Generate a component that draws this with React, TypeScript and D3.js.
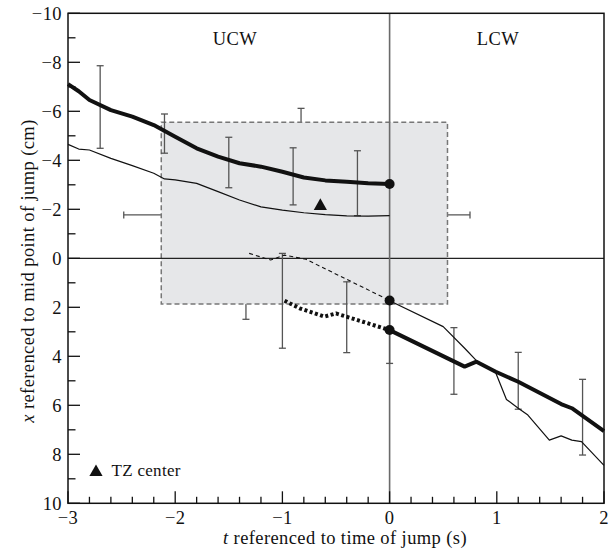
import React from "react";
import * as d3 from "d3";

const ucwThickT = [-3, -2.9, -2.8, -2.6, -2.4, -2.2, -2.0, -1.8, -1.6, -1.4, -1.2, -1.0, -0.8, -0.6, -0.4, -0.2, 0];
const ucwThickX = [-7.11, -6.82, -6.46, -6.05, -5.78, -5.44, -4.96, -4.49, -4.15, -3.88, -3.74, -3.53, -3.3, -3.18, -3.12, -3.06, -3.03];

const ucwThinT = [-3, -2.9, -2.8, -2.6, -2.4, -2.2, -2.1, -2.0, -1.8, -1.6, -1.4, -1.2, -1.0, -0.8, -0.6, -0.4, -0.2, 0];
const ucwThinX = [-4.65, -4.46, -4.42, -4.08, -3.78, -3.47, -3.24, -3.2, -3.06, -2.72, -2.38, -2.1, -1.97, -1.86, -1.78, -1.73, -1.72, -1.74];

const dashT = [-1.31, -1.11, -0.98, -0.78, -0.4, 0];
const dashX = [-0.2, 0.07, -0.13, 0.04, 0.86, 1.72];

const dotT = [-0.98, -0.84, -0.61, -0.5, -0.25, 0];
const dotX = [1.73, 2.04, 2.38, 2.25, 2.59, 2.93];

const lcwThickT = [0, 0.7, 0.81, 0.99, 1.2, 1.6, 1.7, 2.0];
const lcwThickX = [2.93, 4.42, 4.22, 4.63, 5.04, 5.95, 6.12, 7.05];

const lcwThinT = [0, 0.5, 0.7, 0.81, 0.99, 1.09, 1.2, 1.29, 1.49, 1.6, 1.7, 1.79, 2.0];
const lcwThinX = [1.73, 2.79, 3.67, 4.18, 4.67, 5.76, 6.12, 6.4, 7.42, 7.25, 7.42, 7.48, 8.45];

const errT = [-2.7, -2.1, -1.5, -0.9, -0.3, -1.0, -0.4, 0, 0.6, 1.2, 1.8];
const errLo = [-7.86, -5.89, -4.94, -4.51, -4.39, -0.2, 0.96, 1.62, 2.83, 3.84, 4.94];
const errHi = [-4.49, -4.29, -2.88, -2.18, -1.74, 3.67, 3.85, 4.29, 5.55, 6.16, 8.03];

// TZ zone
const tzRectT = [-2.13, 0.54];
const tzRectX = [-5.55, 1.87];
const tzCenter = [-0.646, -2.18];
const tzHBarT = [-2.48, 0.75];
const tzHBarX = -1.77;
const tzVBarTopT = -0.826;
const tzVBarTopX = [-6.12, -1.77];
const tzVBarBotT = -1.34;
const tzVBarBotX = [-1.77, 2.49];

const xMajor = [-3, -2, -1, 0, 1, 2];
const yMajor = [-10, -8, -6, -4, -2, 0, 2, 4, 6, 8, 10];

const FONT = '"Liberation Serif", "DejaVu Serif", serif';

function fmt(v: number) {
  return v < 0 ? "\u2212" + Math.abs(v) : String(v);
}

export default function App() {
  const L = 68, R = 604, T = 13.3, B = 503.3;
  const x = d3.scaleLinear().domain([-3, 2]).range([L, R]);
  const y = d3.scaleLinear().domain([-10, 10]).range([T, B]);

  const line = (ts: number[], xs: number[]) =>
    d3.line<number>().x((_, i) => x(ts[i])).y((d) => y(d)).curve(d3.curveLinear)(xs) || "";

  const xMinor = d3.range(-3, 2.0001, 0.2).map((v) => Math.round(v * 10) / 10).filter((v) => !xMajor.includes(v));
  const yMinor = d3.range(-9, 10, 2);

  const cap = 3.5;
  const errColor = "#555";

  const tri = (cx: number, cy: number, s: number) =>
    `M${cx},${cy - s * 0.55} L${cx + s * 0.55},${cy + s * 0.42} L${cx - s * 0.55},${cy + s * 0.42} Z`;

  const big = { fontSize: "18.5px", letterSpacing: "0.4px" };

  return (
    <svg width={616} height={550} style={{ position: "absolute", left: 0, top: 0, background: "#fff", fontFamily: FONT }}>
      {/* TZ error bars behind rect */}
      <g stroke={errColor} strokeWidth={1.3} fill="none">
        <line x1={x(tzHBarT[0])} x2={x(tzHBarT[1])} y1={y(tzHBarX)} y2={y(tzHBarX)} />
        <line x1={x(tzHBarT[0])} x2={x(tzHBarT[0])} y1={y(tzHBarX) - cap} y2={y(tzHBarX) + cap} />
        <line x1={x(tzHBarT[1])} x2={x(tzHBarT[1])} y1={y(tzHBarX) - cap} y2={y(tzHBarX) + cap} />
        <line x1={x(tzVBarTopT)} x2={x(tzVBarTopT)} y1={y(tzVBarTopX[0])} y2={y(tzVBarTopX[1])} />
        <line x1={x(tzVBarTopT) - cap} x2={x(tzVBarTopT) + cap} y1={y(tzVBarTopX[0])} y2={y(tzVBarTopX[0])} />
        <line x1={x(tzVBarBotT)} x2={x(tzVBarBotT)} y1={y(tzVBarBotX[0])} y2={y(tzVBarBotX[1])} />
        <line x1={x(tzVBarBotT) - cap} x2={x(tzVBarBotT) + cap} y1={y(tzVBarBotX[1])} y2={y(tzVBarBotX[1])} />
      </g>
      {/* TZ rectangle */}
      <rect
        x={x(tzRectT[0])}
        y={y(tzRectX[0])}
        width={x(tzRectT[1]) - x(tzRectT[0])}
        height={y(tzRectX[1]) - y(tzRectX[0])}
        fill="#e6e7e9"
        stroke="#777"
        strokeWidth={1.5}
        strokeDasharray="5,3"
      />
      {/* zero lines */}
      <line x1={L} x2={R} y1={y(0)} y2={y(0)} stroke="#222" strokeWidth={1.2} />
      <line x1={x(0)} x2={x(0)} y1={T} y2={B} stroke="#6a6a6a" strokeWidth={1.6} />

      {/* data error bars */}
      <g stroke={errColor} strokeWidth={1.3} fill="none">
        {errT.map((t, i) => (
          <g key={i}>
            <line x1={x(t)} x2={x(t)} y1={y(errLo[i])} y2={y(errHi[i])} />
            <line x1={x(t) - cap} x2={x(t) + cap} y1={y(errLo[i])} y2={y(errLo[i])} />
            <line x1={x(t) - cap} x2={x(t) + cap} y1={y(errHi[i])} y2={y(errHi[i])} />
          </g>
        ))}
      </g>

      {/* curves */}
      <g fill="none" strokeLinejoin="round">
        <path d={line(ucwThinT, ucwThinX)} stroke="#111" strokeWidth={1.2} />
        <path d={line(lcwThinT, lcwThinX)} stroke="#111" strokeWidth={1.2} />
        <path d={line(dashT, dashX)} stroke="#111" strokeWidth={1.1} strokeDasharray="4,3" />
        <path d={line(ucwThickT, ucwThickX)} stroke="#111" strokeWidth={4} />
        <path d={line(lcwThickT, lcwThickX)} stroke="#111" strokeWidth={4} />
        <path d={line(dotT, dotX)} stroke="#111" strokeWidth={4} strokeDasharray="3,2.5" />
      </g>
      <circle cx={x(0)} cy={y(ucwThickX[ucwThickX.length - 1])} r={5} fill="#111" />
      <circle cx={x(0)} cy={y(dashX[dashX.length - 1])} r={5} fill="#111" />
      <circle cx={x(0)} cy={y(dotX[dotX.length - 1])} r={5} fill="#111" />

      {/* TZ center marker */}
      <path d={tri(x(tzCenter[0]), y(tzCenter[1]), 12)} fill="#111" />

      {/* frame */}
      <rect x={L} y={T} width={R - L} height={B - T} fill="none" stroke="#111" strokeWidth={1.5} />

      {/* ticks */}
      <g stroke="#111" strokeWidth={1.3}>
        {xMajor.map((v) => (
          <line key={"xm" + v} x1={x(v)} x2={x(v)} y1={B} y2={B - 12} />
        ))}
        {xMinor.map((v) => (
          <line key={"xn" + v} x1={x(v)} x2={x(v)} y1={B} y2={B - 6.5} />
        ))}
        {yMajor.map((v) => (
          <line key={"ym" + v} x1={L} x2={L + 12} y1={y(v)} y2={y(v)} />
        ))}
        {yMinor.map((v) => (
          <line key={"yn" + v} x1={L} x2={L + 7.5} y1={y(v)} y2={y(v)} />
        ))}
      </g>
      <g fill="#111" style={big}>
        {xMajor.map((v) => (
          <text key={"xl" + v} x={x(v)} y={523.5} textAnchor="middle">
            {fmt(v)}
          </text>
        ))}
        {yMajor.map((v) => (
          <text key={"yl" + v} x={62} y={y(v) + 6.3} textAnchor="end">
            {fmt(v)}
          </text>
        ))}
      </g>

      {/* region labels */}
      <text x={235} y={44.5} style={big} textAnchor="middle" fill="#111">UCW</text>
      <text x={498} y={44.5} style={big} textAnchor="middle" fill="#111">LCW</text>

      {/* legend */}
      <path d={tri(96, 471, 12)} fill="#111" />
      <text x={111.5} y={475.7} style={{ fontSize: "17px", letterSpacing: "0.3px" }} fill="#111">TZ center</text>

      {/* axis titles */}
      <text x={345} y={544} style={big} textAnchor="middle" fill="#111">
        <tspan fontStyle="italic">t</tspan> referenced to time of jump (s)
      </text>
      <text transform="translate(34,271) rotate(-90)" style={big} textAnchor="middle" fill="#111">
        <tspan fontStyle="italic">x</tspan> referenced to mid point of jump (cm)
      </text>
    </svg>
  );
}
